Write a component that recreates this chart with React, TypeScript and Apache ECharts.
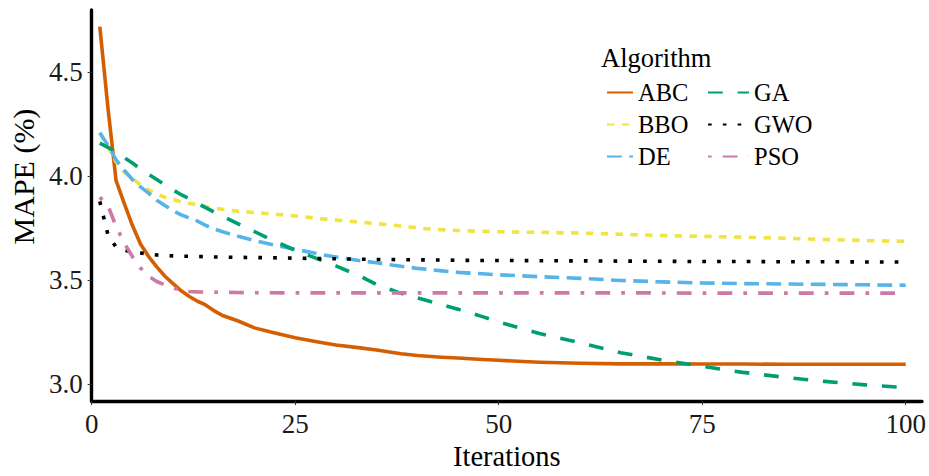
import React, { useEffect, useRef } from "react";
import * as echarts from "echarts";

const iterations = [1, 2, 3, 4, 5, 6, 7, 8, 9, 10, 11, 12, 13, 14, 15, 16, 18, 20, 22, 25, 28, 30, 33, 35, 38, 40, 43, 45, 48, 50, 55, 60, 65, 70, 75, 80, 85, 90, 95, 100];

const abc = [4.72, 4.33, 3.98, 3.87, 3.765, 3.675, 3.615, 3.565, 3.52, 3.485, 3.45, 3.423, 3.40, 3.382, 3.355, 3.333, 3.305, 3.272, 3.252, 3.225, 3.203, 3.19, 3.176, 3.166, 3.148, 3.139, 3.131, 3.127, 3.12, 3.116, 3.107, 3.102, 3.099, 3.099, 3.098, 3.098, 3.097, 3.097, 3.097, 3.097];
const bbo = [4.21, 4.14, 4.07, 4.02, 3.99, 3.96, 3.935, 3.915, 3.90, 3.888, 3.878, 3.87, 3.864, 3.855, 3.848, 3.842, 3.833, 3.826, 3.82, 3.81, 3.797, 3.79, 3.78, 3.773, 3.762, 3.752, 3.744, 3.74, 3.736, 3.734, 3.731, 3.728, 3.722, 3.716, 3.712, 3.708, 3.703, 3.697, 3.692, 3.688];
const de = [4.21, 4.15, 4.08, 4.03, 3.985, 3.95, 3.92, 3.885, 3.86, 3.835, 3.815, 3.80, 3.785, 3.765, 3.748, 3.735, 3.712, 3.692, 3.674, 3.65, 3.626, 3.613, 3.595, 3.585, 3.568, 3.558, 3.546, 3.539, 3.532, 3.527, 3.518, 3.51, 3.50, 3.493, 3.488, 3.485, 3.483, 3.481, 3.479, 3.477];
const ga = [4.16, 4.14, 4.115, 4.09, 4.065, 4.035, 4.01, 3.985, 3.96, 3.935, 3.912, 3.893, 3.87, 3.85, 3.83, 3.81, 3.772, 3.735, 3.697, 3.645, 3.60, 3.57, 3.52, 3.48, 3.438, 3.416, 3.383, 3.362, 3.326, 3.30, 3.245, 3.20, 3.152, 3.118, 3.087, 3.058, 3.035, 3.015, 2.998, 2.985];
const gwo = [3.88, 3.72, 3.66, 3.645, 3.637, 3.632, 3.627, 3.622, 3.62, 3.618, 3.617, 3.616, 3.615, 3.614, 3.613, 3.612, 3.611, 3.61, 3.609, 3.607, 3.605, 3.604, 3.602, 3.601, 3.6, 3.599, 3.598, 3.597, 3.596, 3.596, 3.595, 3.594, 3.593, 3.592, 3.591, 3.591, 3.59, 3.59, 3.589, 3.589];
const pso = [3.90, 3.86, 3.76, 3.68, 3.615, 3.56, 3.52, 3.495, 3.478, 3.464, 3.452, 3.447, 3.445, 3.444, 3.444, 3.443, 3.442, 3.441, 3.441, 3.44, 3.44, 3.44, 3.44, 3.44, 3.44, 3.44, 3.44, 3.44, 3.44, 3.44, 3.44, 3.44, 3.44, 3.44, 3.439, 3.439, 3.439, 3.439, 3.439, 3.439];

const xTicks = [0, 25, 50, 75, 100];
const yTicks = [3.0, 3.5, 4.0, 4.5];

const seriesNames = ["ABC", "BBO", "DE", "GA", "GWO", "PSO"];
const seriesValues = [abc, bbo, de, ga, gwo, pso];
const seriesColors = ["#D55E00", "#F0E442", "#56B4E9", "#009E73", "#000000", "#CC79A7"];
const LW = 3.6;
const seriesDash: any[] = [
  "solid",
  [7.4, 7.4],
  [14.8, 7.4],
  [14.8, 14.8],
  [3.7, 11.1],
  [3.7, 11.1, 14.8, 11.1],
];

const FONT = "'Liberation Serif', 'Times New Roman', serif";

export default function App() {
  const ref = useRef<HTMLDivElement>(null);
  useEffect(() => {
    if (!ref.current) return;
    const chart = echarts.init(ref.current, null, { renderer: "svg" });
    const series = seriesNames.map((name, i) => ({
      name,
      type: "line",
      data: iterations.map((it, j) => [it, seriesValues[i][j]]),
      symbol: "none",
      showSymbol: false,
      smooth: false,
      silent: true,
      color: seriesColors[i],
      itemStyle: { color: seriesColors[i] },
      lineStyle: { color: seriesColors[i], width: LW, type: seriesDash[i], cap: "butt", join: "round" },
      emphasis: { disabled: true },
      z: 2 + i,
    }));
    const legendText = { fontFamily: FONT, fontSize: 24.5, color: "#000" };
    const legendItemStyle = { opacity: 0, color: "transparent", borderWidth: 0 };
    chart.setOption({
      animation: false,
      backgroundColor: "#ffffff",
      title: {
        text: "Algorithm",
        left: 601,
        top: 44,
        padding: 0,
        textStyle: { fontFamily: FONT, fontSize: 26.5, fontWeight: "normal", color: "#000" },
      },
      legend: [
        {
          data: ["ABC", "BBO", "DE"],
          orient: "vertical",
          left: 606,
          top: 80,
          padding: 0,
          itemWidth: 26,
          itemHeight: 14,
          itemGap: 7,
          selectedMode: false,
          itemStyle: legendItemStyle,
          textStyle: legendText,
        },
        {
          data: ["GA", "GWO", "PSO"],
          orient: "vertical",
          left: 707,
          top: 80,
          padding: 0,
          itemWidth: 41,
          itemHeight: 14,
          itemGap: 7,
          selectedMode: false,
          itemStyle: legendItemStyle,
          textStyle: legendText,
        },
      ],
      grid: { left: 90, right: 7, top: 10, bottom: 73, containLabel: false },
      xAxis: {
        type: "value",
        min: 0,
        max: 102,
        name: "Iterations",
        nameLocation: "middle",
        nameGap: 31,
        nameTextStyle: { fontFamily: FONT, fontSize: 28.5, color: "#000" },
        axisLine: { show: true, lineStyle: { color: "#000", width: 3.4 } },
        axisTick: { show: true, length: 4, customValues: xTicks, lineStyle: { color: "#333", width: 1 } },
        axisLabel: { customValues: xTicks, margin: 9, fontFamily: FONT, fontSize: 27, color: "#1a1a1a" },
        splitLine: { show: false },
      },
      yAxis: {
        type: "value",
        min: 2.92,
        max: 4.8,
        name: "MAPE (%)",
        nameLocation: "middle",
        nameGap: 52,
        nameRotate: 90,
        nameTextStyle: { fontFamily: FONT, fontSize: 30, color: "#000", padding: [0, 0, 0, 58] },
        axisLine: { show: true, lineStyle: { color: "#000", width: 3.4 } },
        axisTick: { show: true, length: 4, customValues: yTicks, lineStyle: { color: "#333", width: 1 } },
        axisLabel: {
          customValues: yTicks,
          margin: 9,
          fontFamily: FONT,
          fontSize: 27,
          color: "#1a1a1a",
          formatter: (v: number) => v.toFixed(1),
        },
        splitLine: { show: false },
      },
      series,
    });
    return () => chart.dispose();
  }, []);
  return (
    <div
      ref={ref}
      style={{ position: "absolute", left: 0, top: 0, width: 929, height: 476, background: "#fff" }}
    />
  );
}
